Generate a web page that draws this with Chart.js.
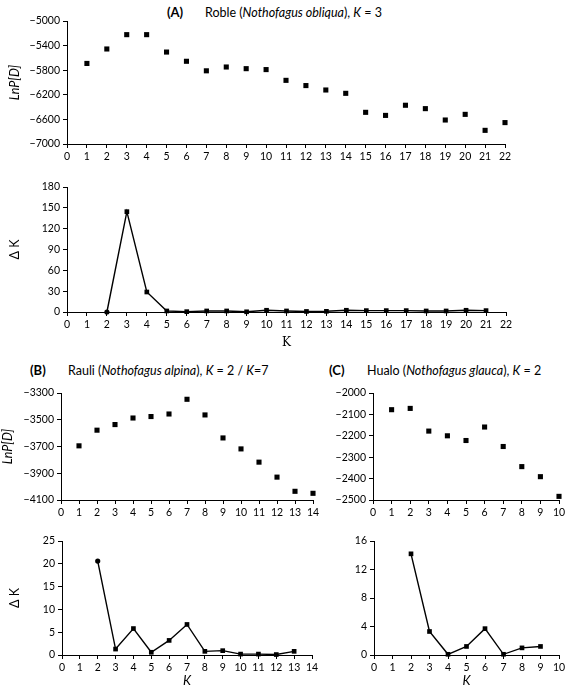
<!DOCTYPE html>
<html>
<head>
<meta charset="utf-8">
<script src="https://cdn.jsdelivr.net/npm/chart.js@4.4.0/dist/chart.umd.min.js"></script>
<style>
  body { margin: 0; background: #fff; width: 570px; height: 695px; position: relative; overflow: hidden; font-family: Lato, sans-serif; }
  canvas { position: absolute; }
  .ttl { position: absolute; font-size: 12.5px; white-space: nowrap; color: #000; }
  .ttl b { display: inline-block; width: 38px; font-size: 13px; }
</style>
</head>
<body>
<div class="ttl" style="left:167px;top:4px"><b>(A)</b>Roble (<i>Nothofagus obliqua</i>), <i>K</i> = 3</div>
<div class="ttl" style="left:30px;top:362px"><b>(B)</b>Rauli (<i>Nothofagus alpina</i>), <i>K</i> = 2 / <i>K</i>=7</div>
<div class="ttl" style="left:329px;top:362px"><b>(C)</b>Hualo (<i>Nothofagus glauca</i>), <i>K</i> = 2</div>
<canvas id="aTop"></canvas>
<canvas id="aBot"></canvas>
<canvas id="bTop"></canvas>
<canvas id="bBot"></canvas>
<canvas id="cTop"></canvas>
<canvas id="cBot"></canvas>
<script>
// (A) Roble
var kA = [1, 2, 3, 4, 5, 6, 7, 8, 9, 10, 11, 12, 13, 14, 15, 16, 17, 18, 19, 20, 21, 22];
var lnpA = [-5690, -5455, -5222, -5222, -5505, -5655, -5810, -5748, -5775, -5790, -5965, -6050,
            -6122, -6176, -6485, -6535, -6370, -6425, -6610, -6518, -6778, -6652];
var dkA_k = [2, 3, 4, 5, 6, 7, 8, 9, 10, 11, 12, 13, 14, 15, 16, 17, 18, 19, 20, 21];
var dkA = [0, 144.5, 28.8, 1.5, 0.5, 1.5, 1.5, 0.3, 2.5, 1.5, 0.8, 1, 2.5, 2, 2, 2, 1.5, 1.5, 2.5, 2];

// (B) Rauli
var kB = [1, 2, 3, 4, 5, 6, 7, 8, 9, 10, 11, 12, 13, 14];
var lnpB = [-3695, -3578, -3536, -3487, -3476, -3457, -3347, -3464, -3636, -3718, -3817, -3929, -4035, -4050];
var dkB_k = [2, 3, 4, 5, 6, 7, 8, 9, 10, 11, 12, 13];
var dkB = [20.6, 1.3, 5.8, 0.6, 3.2, 6.7, 0.8, 0.95, 0.2, 0.2, 0.1, 0.8];

// (C) Hualo
var kC = [1, 2, 3, 4, 5, 6, 7, 8, 9, 10];
var lnpC = [-2078, -2072, -2178, -2200, -2222, -2159, -2250, -2344, -2391, -2483];
var dkC_k = [2, 3, 4, 5, 6, 7, 8, 9];
var dkC = [14.2, 3.3, 0.1, 1.2, 3.7, 0.1, 1.0, 1.2];

// axis ranges [min, max, step]
var xA = [0, 22, 1], xB = [0, 14, 1], xC = [0, 10, 1];
var yLnA = [-7000, -5000, 400], yDkA = [0, 180, 30];
var yLnB = [-4100, -3300, 200], yDkB = [0, 25, 5];
var yLnC = [-2500, -2000, 100], yDkC = [0, 16, 4];

Chart.defaults.font.family = 'Lato, sans-serif';
Chart.defaults.font.size = 10.5;
Chart.defaults.color = '#000';

function fmt(v) { return v < 0 ? '\u2212' + Math.abs(v) : String(v); }

function pts(xs, ys) {
  return xs.map(function (x, i) { return { x: x, y: ys[i] }; });
}

// o: id, box {L,R,T,B} plot area, cl canvas left, xh x-axis height, ...
function panel(o) {
  var pt = 10, pr = o.pr || 12;
  var cv = document.getElementById(o.id);
  cv.width = o.box.R - o.cl + pr;
  cv.height = pt + (o.box.B - o.box.T) + o.xh;
  cv.style.left = o.cl + 'px';
  cv.style.top = (o.box.T - pt) + 'px';
  var yw = o.box.L - o.cl;
  var line = o.line;
  var n = o.xs.length;
  var styles = [];
  for (var i = 0; i < n; i++) styles.push(i === 0 && o.firstDot ? 'circle' : 'rect');
  var radii = [];
  for (var j = 0; j < n; j++) radii.push(i === 0 && o.firstDot ? 2.5 : (line ? 3.3 : 3.6));
  if (o.firstDot) radii[0] = 2.6;

  return new Chart(cv, {
    type: 'line',
    data: {
      datasets: [{
        data: pts(o.xs, o.ys),
        showLine: line,
        borderColor: '#000',
        borderWidth: 1.4,
        backgroundColor: '#000',
        pointStyle: styles,
        pointRadius: radii,
        pointBorderWidth: 0,
        clip: false,
        tension: 0
      }]
    },
    options: {
      responsive: false,
      animation: false,
      layout: { padding: { top: pt, right: pr, left: 0, bottom: 0 } },
      plugins: { legend: { display: false }, tooltip: { enabled: false } },
      scales: {
        x: {
          type: 'linear',
          min: o.xr[0], max: o.xr[1],
          afterFit: function (s) { s.height = o.xh; },
          ticks: { stepSize: o.xr[2], autoSkip: false, maxRotation: 0, padding: 2 },
          grid: { drawOnChartArea: false, drawTicks: true, tickLength: 4, tickColor: '#000' },
          border: { display: true, color: '#000', width: 1 },
          title: o.xTitle ? { display: true, text: 'K', font: o.xTitleFont, padding: { top: 2, bottom: 2 } } : { display: false }
        },
        y: {
          type: 'linear',
          min: o.yr[0], max: o.yr[1],
          afterFit: function (s) { s.width = yw; },
          ticks: { stepSize: o.yr[2], padding: 3, callback: function (v) { return fmt(v); } },
          grid: { drawOnChartArea: false, drawTicks: true, tickLength: 4, tickColor: '#000' },
          border: { display: true, color: '#000', width: 1 },
          title: o.yTitle ? {
            display: true, text: o.yTitle,
            font: { size: 12.5, style: o.yItalic ? 'italic' : 'normal' },
            padding: { top: o.yTitlePad, bottom: 0 }
          } : { display: false }
        }
      }
    }
  });
}

panel({ id: 'aTop', box: { L: 67, R: 505, T: 21, B: 144 }, cl: 0, xh: 25,
  xs: kA, ys: lnpA, xr: xA, yr: yLnA, line: false, yTitle: 'LnP[D]', yItalic: true, yTitlePad: 7 });
panel({ id: 'aBot', box: { L: 67, R: 506, T: 187, B: 312 }, cl: 0, xh: 40,
  xs: dkA_k, ys: dkA, xr: xA, yr: yDkA, line: true, firstDot: true,
  yTitle: '\u0394 K', yItalic: false, yTitlePad: 7,
  xTitle: true, xTitleFont: { family: 'DejaVu Serif, serif', size: 12 } });
panel({ id: 'bTop', box: { L: 61, R: 313, T: 393, B: 500 }, cl: 0, xh: 25,
  xs: kB, ys: lnpB, xr: xB, yr: yLnB, line: false, yTitle: 'LnP[D]', yItalic: true, yTitlePad: 0 });
panel({ id: 'bBot', box: { L: 62, R: 312, T: 541, B: 655 }, cl: 0, xh: 36,
  xs: dkB_k, ys: dkB, xr: xB, yr: yDkB, line: true, firstDot: true,
  yTitle: '\u0394 K', yItalic: false, yTitlePad: 7,
  xTitle: true, xTitleFont: { size: 13, style: 'italic' } });
panel({ id: 'cTop', box: { L: 373, R: 559, T: 393, B: 500 }, cl: 320, pr: 10, xh: 25,
  xs: kC, ys: lnpC, xr: xC, yr: yLnC, line: false });
panel({ id: 'cBot', box: { L: 374, R: 559, T: 541, B: 655 }, cl: 320, pr: 10, xh: 36,
  xs: dkC_k, ys: dkC, xr: xC, yr: yDkC, line: true,
  xTitle: true, xTitleFont: { size: 13, style: 'italic' } });
</script>
</body>
</html>
